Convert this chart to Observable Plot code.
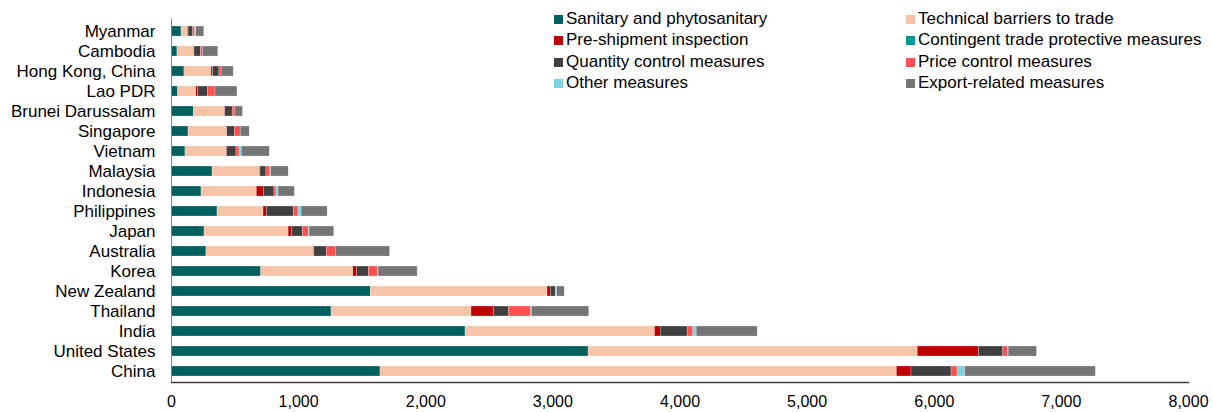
<!DOCTYPE html>
<html>
<head>
<meta charset="utf-8">
<script src="https://cdn.jsdelivr.net/npm/d3@7"></script>
<script src="https://cdn.jsdelivr.net/npm/@observablehq/plot@0.6"></script>
<style>
  body { margin: 0; background: #fff; font-family: "Liberation Sans", Arial, sans-serif; }
  #wrap { position: relative; width: 1213px; height: 412px; }
  #legend { position: absolute; left: 0; top: 0; width: 1213px; height: 100px; pointer-events: none; }
  .item { position: absolute; display: flex; align-items: center; font-size: 17px; color: #000; white-space: nowrap; line-height: 20px; }
  .sw { width: 9px; height: 9px; margin-right: 3px; flex: none; }
</style>
</head>
<body>
<div id="wrap"><div id="legend"></div></div>
<script>
const countries = ["Myanmar","Cambodia","Hong Kong, China","Lao PDR","Brunei Darussalam","Singapore","Vietnam","Malaysia","Indonesia","Philippines","Japan","Australia","Korea","New Zealand","Thailand","India","United States","China"];

const categories = ["Sanitary and phytosanitary","Technical barriers to trade","Pre-shipment inspection","Contingent trade protective measures","Quantity control measures","Price control measures","Other measures","Export-related measures"];
const colors = ["#00605E","#F8C3A6","#C00000","#009A96","#404040","#FF5050","#7ED3DF","#757575"];

const sps        = [79, 47, 102, 52, 176, 134, 110, 323, 236, 362, 260, 275, 706, 1568, 1259, 2313, 3281, 1644];
const tbt        = [50, 131, 212, 142, 244, 302, 323, 372, 435, 362, 661, 844, 724, 1390, 1101, 1490, 2589, 4062];
const preship    = [5, 3, 13, 16, 3, 3, 5, 5, 55, 26, 29, 5, 31, 26, 176, 45, 482, 115];
const contingent = [0, 0, 0, 0, 0, 0, 0, 0, 0, 0, 0, 0, 0, 0, 0, 0, 0, 0];
const quantity   = [37, 50, 50, 76, 58, 58, 73, 47, 84, 212, 84, 97, 92, 39, 118, 212, 191, 315];
const price      = [16, 16, 18, 60, 21, 47, 24, 31, 16, 37, 47, 73, 71, 0, 176, 45, 37, 47];
const other      = [8, 0, 0, 0, 0, 0, 18, 5, 16, 24, 5, 0, 5, 10, 5, 26, 5, 60];
const exportRel  = [63, 121, 94, 173, 60, 71, 220, 139, 128, 205, 194, 425, 307, 60, 451, 480, 223, 1028];

const xTicks = [0,1000,2000,3000,4000,5000,6000,7000,8000];

const series = [sps, tbt, preship, contingent, quantity, price, other, exportRel];
const rows = [];
countries.forEach((c, i) => {
  categories.forEach((cat, j) => {
    rows.push({country: c, category: cat, value: series[j][i]});
  });
});

const chart = Plot.plot({
  width: 1213,
  height: 412,
  marginLeft: 171,
  marginRight: 25,
  marginTop: 19,
  marginBottom: 30,
  style: {fontFamily: "'Liberation Sans', Arial, sans-serif", background: "#fff", color: "#000"},
  x: {domain: [0, 8000], ticks: xTicks, tickFormat: d3.format(","), label: null},
  y: {domain: countries, paddingInner: 0.5, paddingOuter: 0.25, label: null},
  color: {domain: categories, range: colors},
  marks: [
    Plot.barX(rows, {y: "country", x: "value", fill: "category", stroke: "#fff", strokeWidth: 0.4, strokeOpacity: 0.6}),
    Plot.ruleX([0], {stroke: "#808080", strokeWidth: 1}),
    Plot.axisX({ticks: xTicks, tickFormat: d3.format(","), tickSize: 0, tickPadding: 13, fontSize: 16, label: null}),
    Plot.axisY({tickSize: 0, tickPadding: 16, fontSize: 17, label: null}),
    Plot.frame({anchor: "bottom", stroke: "#404040", strokeWidth: 1.5})
  ]
});
document.getElementById("wrap").prepend(chart);

const legend = document.getElementById("legend");
const colX = [554, 906];
const rowY = [19, 40, 62, 83];
categories.forEach((cat, j) => {
  const el = document.createElement("div");
  el.className = "item";
  el.style.left = colX[j % 2] + "px";
  el.style.top = (rowY[Math.floor(j / 2)] - 10) + "px";
  const sw = document.createElement("span");
  sw.className = "sw";
  sw.style.background = colors[j];
  el.appendChild(sw);
  el.appendChild(document.createTextNode(cat));
  legend.appendChild(el);
});
</script>
</body>
</html>
